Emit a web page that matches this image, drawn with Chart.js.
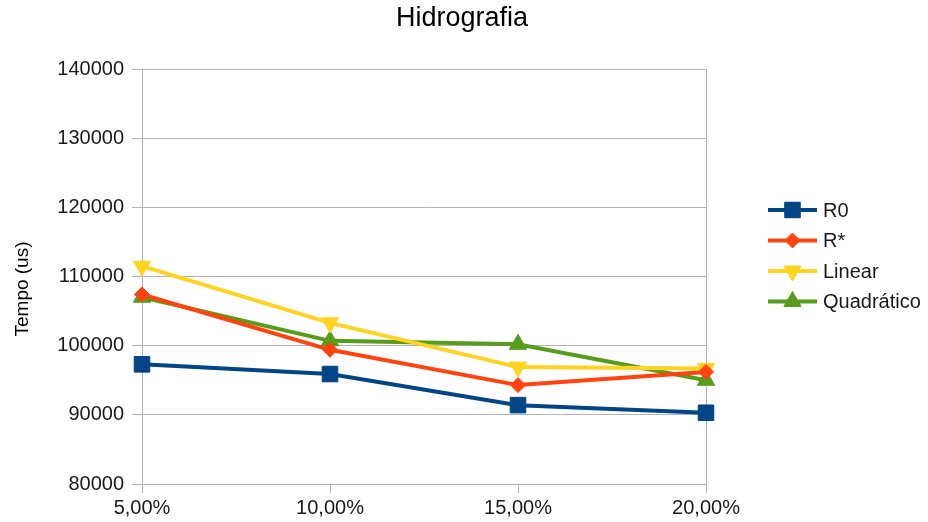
<!DOCTYPE html>
<html>
<head>
<meta charset="utf-8">
<script src="https://cdn.jsdelivr.net/npm/chart.js@4/dist/chart.umd.min.js"></script>
<style>
  html, body { margin: 0; padding: 0; background: #ffffff; }
  #wrap { width: 928px; height: 522px; position: relative; }
</style>
</head>
<body>
<div id="wrap"><canvas id="c" width="928" height="522"></canvas></div>
<script>
// Percentual de amostragem
const categories = ['5,00%', '10,00%', '15,00%', '20,00%'];

// Tempo de execução (us) por método
const r0 = [97300, 95900, 91400, 90300];
const rStar = [107400, 99400, 94300, 96200];
const linear = [111500, 103300, 96900, 96700];
const quadratico = [107000, 100700, 100200, 95000];

const yTicks = [80000, 90000, 100000, 110000, 120000, 130000, 140000];

const FONT = '"Liberation Sans", Arial, sans-serif';
const GRID = '#b3b3b3';

const series = [
  { label: 'R0', data: r0, color: '#004586', pointStyle: 'rect', radius: 11, rotation: 0 },
  { label: 'R*', data: rStar, color: '#ff420e', pointStyle: 'rectRot', radius: 7.5, rotation: 0 },
  { label: 'Linear', data: linear, color: '#ffd320', pointStyle: 'triangle', radius: 10, rotation: 180 },
  { label: 'Quadrático', data: quadratico, color: '#579d1c', pointStyle: 'triangle', radius: 10, rotation: 0 }
];

// Legenda à direita: linha com marcador + rótulo
const sideLegend = {
  id: 'sideLegend',
  afterDraw(chart) {
    const ctx = chart.ctx;
    const x0 = 768, x1 = 817, tx = 823;
    const yStart = 210, step = 30.5;
    ctx.save();
    chart.data.datasets.forEach((ds, i) => {
      const y = yStart + i * step;
      ctx.strokeStyle = ds.borderColor;
      ctx.lineWidth = 4;
      ctx.beginPath();
      ctx.moveTo(x0, y);
      ctx.lineTo(x1, y);
      ctx.stroke();
      ctx.fillStyle = ds.borderColor;
      ctx.strokeStyle = ds.borderColor;
      ctx.lineWidth = 1;
      Chart.helpers.drawPoint(ctx, {
        pointStyle: ds.pointStyle,
        rotation: ds.pointRotation,
        radius: ds.pointRadius,
        borderWidth: 1
      }, (x0 + x1) / 2, y);
      ctx.fillStyle = '#1a1a1a';
      ctx.font = '20px ' + FONT;
      ctx.textAlign = 'left';
      ctx.textBaseline = 'middle';
      ctx.fillText(ds.label, tx, y + 1);
    });
    ctx.restore();
  }
};

// Título do gráfico, título do eixo Y e borda direita da área de plotagem
const frameAndTitles = {
  id: 'frameAndTitles',
  beforeDatasetsDraw(chart) {
    const { ctx, chartArea } = chart;
    ctx.save();
    ctx.strokeStyle = GRID;
    ctx.lineWidth = 1;
    ctx.beginPath();
    ctx.moveTo(Math.round(chartArea.right) + 0.5, chartArea.top);
    ctx.lineTo(Math.round(chartArea.right) + 0.5, chartArea.bottom);
    ctx.stroke();
    ctx.restore();
  },
  afterDraw(chart) {
    const ctx = chart.ctx;
    ctx.save();
    ctx.fillStyle = '#000000';
    ctx.font = '27px ' + FONT;
    ctx.textAlign = 'center';
    ctx.textBaseline = 'middle';
    ctx.fillText('Hidrografia', 462, 19);

    ctx.translate(23, 289);
    ctx.rotate(-Math.PI / 2);
    ctx.font = '19px ' + FONT;
    ctx.fillText('Tempo (us)', 0, 0);
    ctx.restore();
  }
};

new Chart(document.getElementById('c'), {
  type: 'line',
  data: {
    labels: categories,
    datasets: series.map(s => ({
      label: s.label,
      data: s.data,
      borderColor: s.color,
      backgroundColor: s.color,
      borderWidth: 4,
      tension: 0,
      pointStyle: s.pointStyle,
      pointRadius: s.radius,
      pointHoverRadius: s.radius,
      pointRotation: s.rotation,
      pointBorderWidth: 1,
      pointBackgroundColor: s.color,
      pointBorderColor: s.color,
      clip: false
    }))
  },
  options: {
    responsive: false,
    animation: false,
    devicePixelRatio: 1,
    layout: { padding: { left: 0, top: 69, right: 222, bottom: 0 } },
    plugins: {
      legend: { display: false },
      title: { display: false },
      tooltip: { enabled: false }
    },
    scales: {
      x: {
        type: 'category',
        offset: false,
        grid: {
          color: 'rgba(0,0,0,0)',
          tickColor: GRID,
          lineWidth: 1,
          tickLength: 9,
          drawTicks: true
        },
        border: { color: GRID, width: 1 },
        ticks: { color: '#1a1a1a', font: { family: FONT, size: 20 }, padding: 3, maxRotation: 0 },
        afterFit(scale) { scale.height = 38; }
      },
      y: {
        type: 'linear',
        min: 80000,
        max: 140000,
        afterBuildTicks(scale) { scale.ticks = yTicks.map(v => ({ value: v })); },
        grid: { color: GRID, lineWidth: 1, tickLength: 10, drawTicks: true },
        border: { color: GRID, width: 1 },
        ticks: {
          color: '#1a1a1a',
          font: { family: FONT, size: 20 },
          padding: 8,
          callback: v => String(v)
        },
        title: { display: false },
        afterFit(scale) { scale.width = 142; }
      }
    }
  },
  plugins: [sideLegend, frameAndTitles]
});
</script>
</body>
</html>
